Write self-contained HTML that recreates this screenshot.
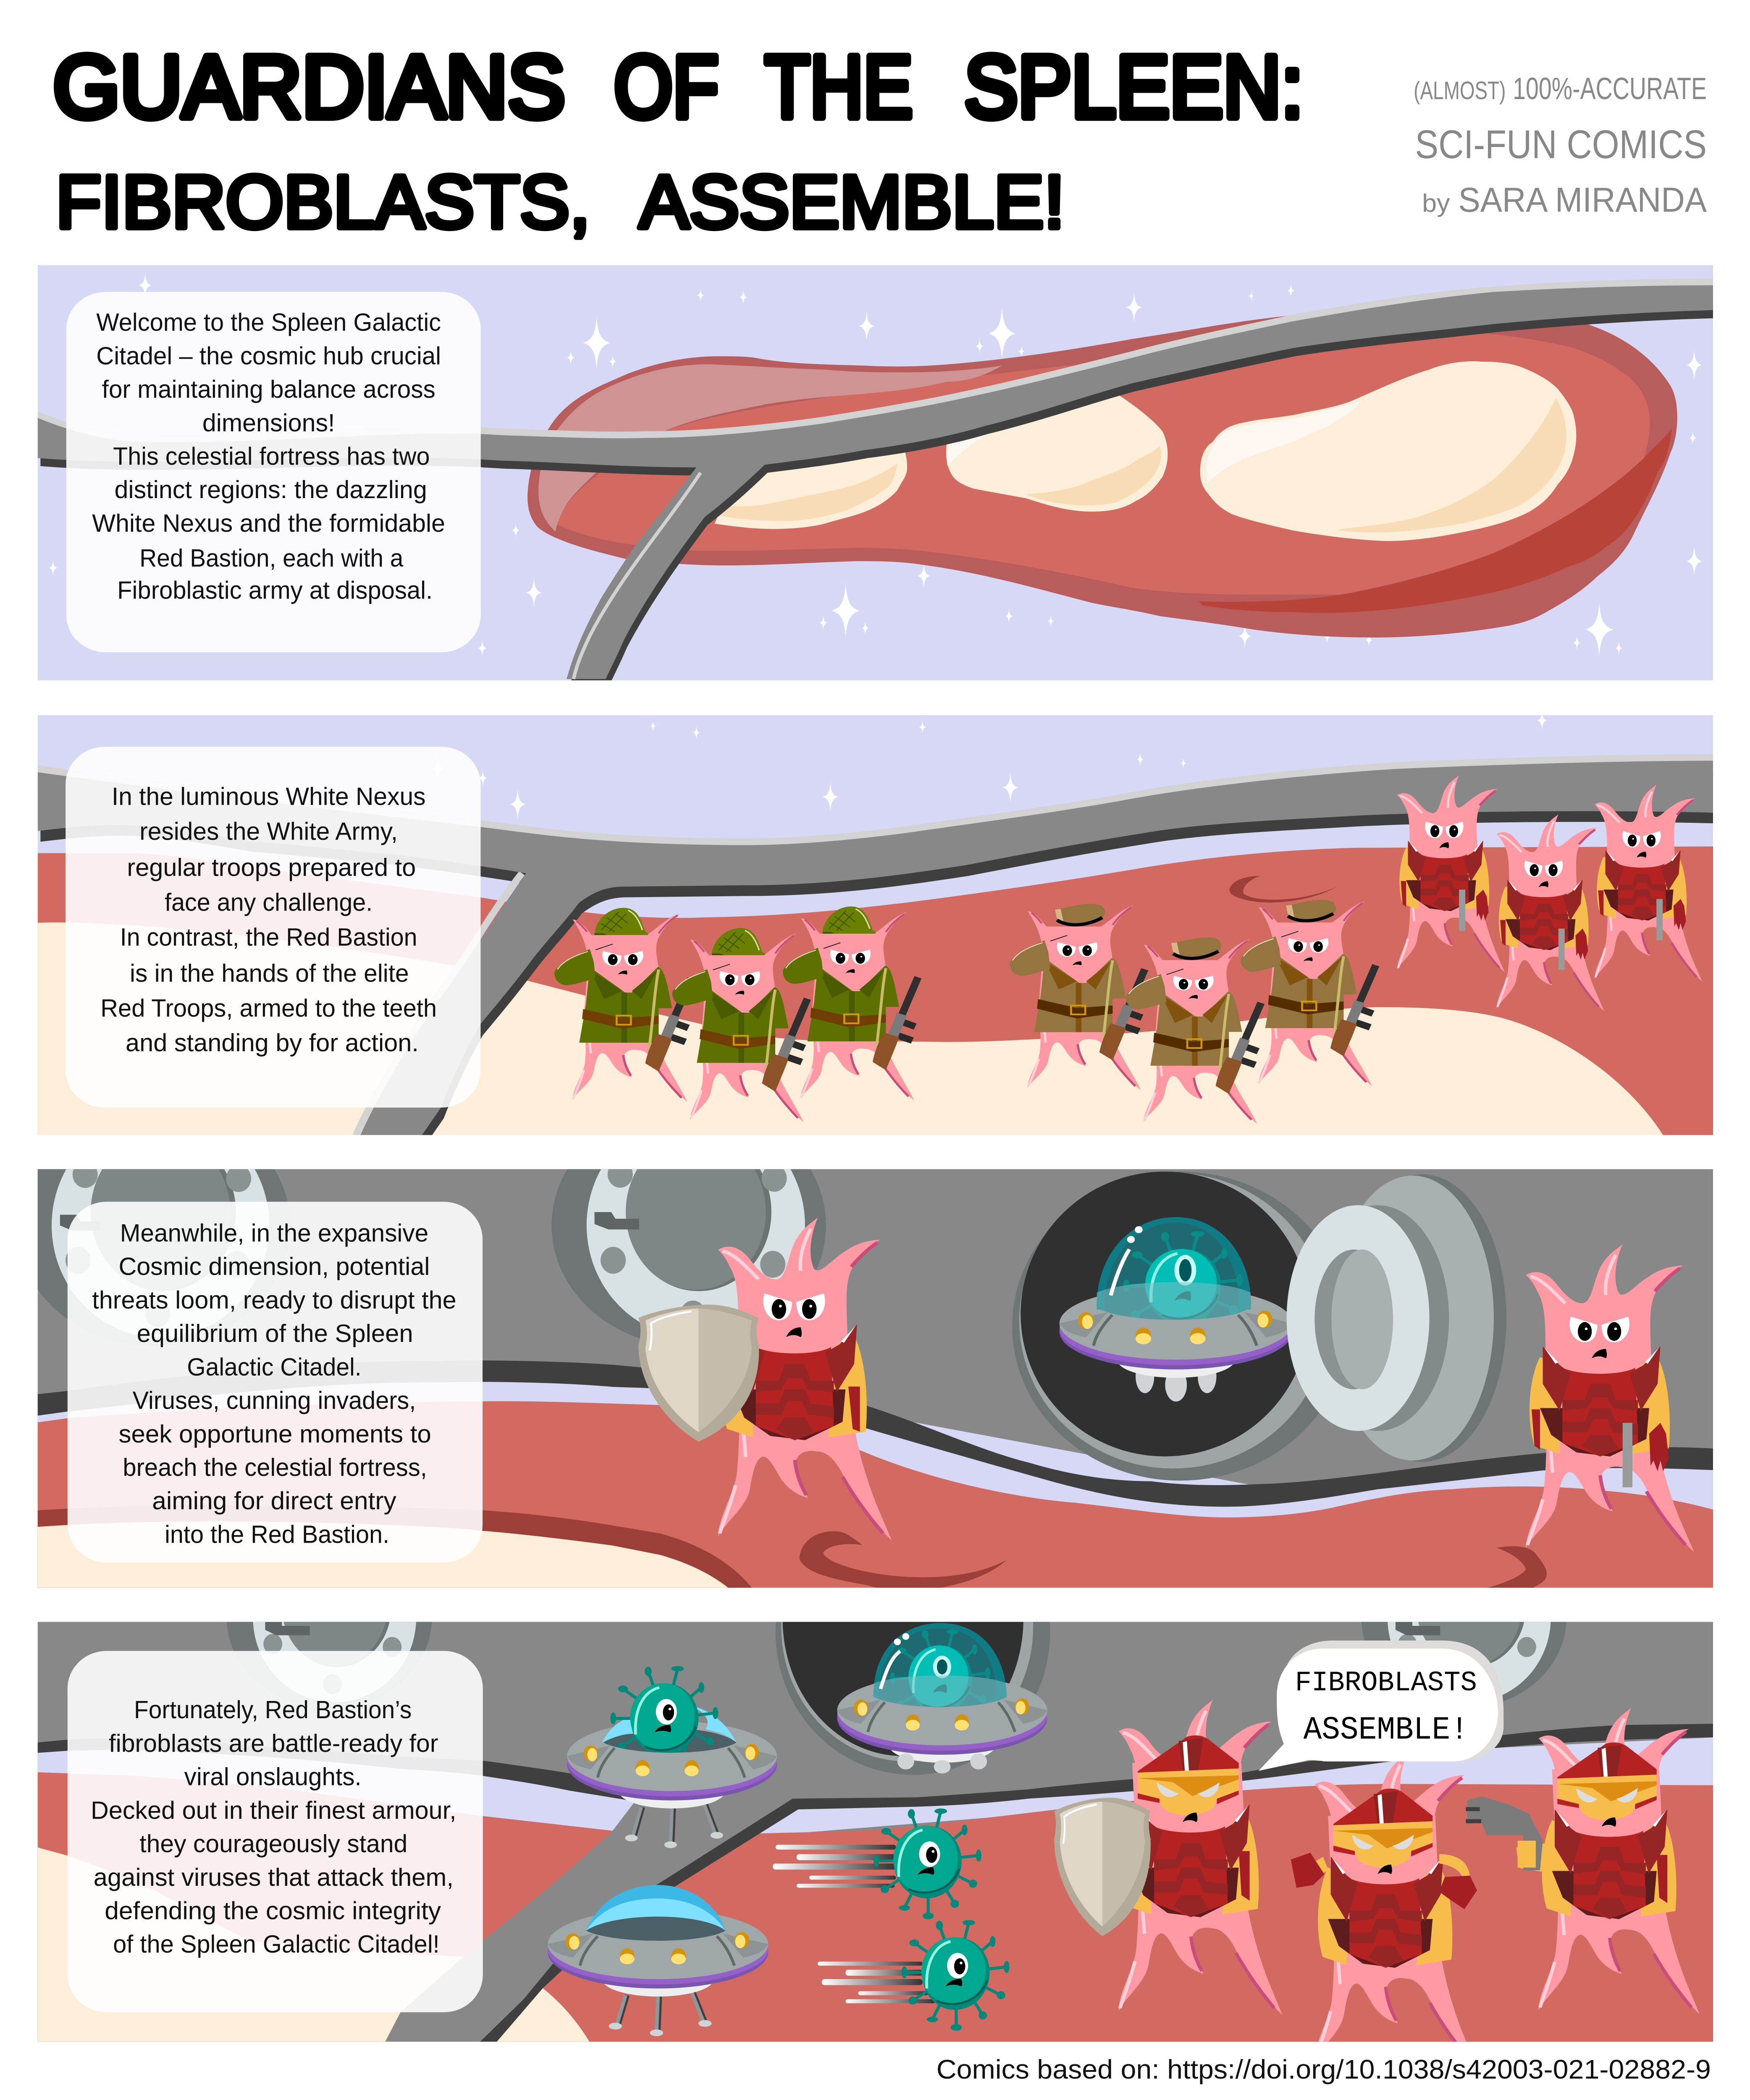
<!DOCTYPE html>
<html><head><meta charset="utf-8"><style>
html,body{margin:0;padding:0;background:#fff;width:100%;height:100%;overflow:hidden}
svg{display:block;position:fixed;left:0;top:0;width:100vw;height:100vh}
.b{font-family:"Liberation Sans",sans-serif;font-size:18.5px;fill:#111}
</style></head><body>
<svg xmlns="http://www.w3.org/2000/svg" viewBox="0 0 1254 1568" preserveAspectRatio="none">
<defs>
<clipPath id="c1"><rect x="27" y="198" width="1200.500" height="310"/></clipPath>
<clipPath id="c2"><rect x="27" y="534" width="1200.500" height="313.500"/></clipPath>
<clipPath id="c3"><rect x="27" y="873" width="1200.500" height="312.500"/></clipPath>
<clipPath id="c4"><rect x="27" y="1211" width="1200.500" height="313.500"/></clipPath>
<linearGradient id="sl"><stop offset="0" stop-color="#fff"/><stop offset="1" stop-color="#333"/></linearGradient>
<path id="s" fill="#fff" d="M0-1C.05-.35.15-.12.5 0C.15.12.05.35 0 1C-.05.35-.15.12-.5 0C-.15-.12-.05-.35 0-1Z"/>

<g id="lg"><path fill="none" stroke="#c84d7a" stroke-width="2.500" d="M86,184C95,200 104,212 114,224M53,172C54,182 57,190 61,197"/><path fill="none" stroke="#ffd0da" stroke-width="2.500" d="M12,190C8,205 4,215 1,224M15,120L19,170"/></g>

<g id="fb"><path fill="#ff9aa4" d="M0,23C8,18 16,22 22,30C28,38 34,44 40,44C48,44 48,24 55,14C60,6 66,3 69,0C64,12 62,26 66,36C70,42 78,30 88,24C96,18 106,16 112,16C104,20 92,32 90,44C87,55 90,90 92,130C94,160 104,190 110,205L120,229C108,218 96,200 86,182C80,170 74,166 68,166C58,164 52,170 54,178C55,186 60,194 62,199C52,196 46,190 42,183C38,176 34,168 30,170C26,172 24,180 22,192C20,205 6,215 0,226C0,212 12,195 13,180C15,160 15,130 14,90C14,60 14,45 8,35C6,30 3,26 0,23Z"/><use href="#lg"/><path fill="none" stroke="#c84d7a" stroke-width="2.500" d="M92,35C98,28 104,22 110,18"/><path fill="none" stroke="#ffd0da" stroke-width="2.500" d="M3,24C12,26 20,36 28,44M64,8C58,20 56,30 57,38"/></g>

<g id="fb2"><path fill="#ff9aa4" d="M0,7C8,8 14,18 20,26L78,26C90,16 100,4 112,0C102,8 90,24 88,36C86,48 90,60 90,70L90,160C94,180 110,205 120,229C108,218 96,200 86,182C80,170 74,166 68,166C58,164 52,170 54,178C55,186 60,194 62,199C52,196 46,190 42,183C38,176 34,168 30,170C26,172 24,180 22,192C20,205 6,215 0,226C0,212 12,195 13,180C15,160 12,150 12,120L16,60C16,40 8,20 0,7Z"/><use href="#lg"/><path fill="none" stroke="#c84d7a" stroke-width="2" d="M4,9C8,12 12,18 15,22M90,24C96,14 104,6 110,2"/></g>

<g id="eyes"><path fill="#fff" d="M-10,-9C-13,0 -8,10 0,10C7,10 9,3 9,-3Z"/><ellipse cx="0" cy="2" rx="5" ry="7"/><circle cx="1" cy="0" r="1" fill="#fff"/>
<g transform="translate(21 0) scale(-1 1)"><path fill="#fff" d="M-10,-9C-13,0 -8,10 0,10C7,10 9,3 9,-3Z"/><ellipse cx="0" cy="2" rx="5" ry="7"/><circle cx="-1" cy="0" r="1" fill="#fff"/></g></g>
<path id="mo" d="M-5,3C-3,-2 1,-4 5,-4C6,-1 6,2 5,3C2,1 -2,1 -5,3Z"/>

<g id="arm">
<path fill="#f6bd4c" d="M10,84C2,100 0,130 6,150L24,156L24,90ZM94,84C102,100 104,130 102,152L76,156L82,90Z"/>
<path fill="#5f1c1c" d="M10,122L88,122L86,145L60,158L36,155L18,142Z"/>
<path fill="#b52222" d="M26,92C38,98 68,98 78,92L80,148L66,153L53,158L40,153L26,148Z"/>
<path fill="#962626" d="M12,76L24,90L32,96L24,124L12,104ZM96,76L84,90L74,96L82,124L94,104Z"/>
<path fill="#962626" d="M26,116L42,116L46,104L60,104L64,116L80,116L80,124L62,122L58,114L48,114L44,122L26,124ZM26,132L42,132L46,122L60,122L64,132L80,134L80,142L62,140L58,130L48,130L44,140L26,140ZM40,150L46,142L60,142L66,152L53,158Z"/>
<path fill="#fff" d="M13,77L23,88L21,89ZM95,77L85,88L87,89Z"/>
</g>
<path id="gl" fill="#a51e24" d="M0,8L8,0L12,8L14,26L10,36L8,28L6,36L3,28L1,32Z"/>

<g id="hm">
<path fill="#ff9aa4" d="M10,46L90,46L92,90L12,90Z"/>
<path fill="#b52222" d="M14,52L50,27C56,25 62,26 66,29L88,46L88,54L14,54Z"/>
<path fill="#8d2323" d="M44,30L62,28L57,60L48,60Z"/><path fill="#fff" d="M47,31L50,30L52,58L49,58Z"/>
<path fill="#f6bd4c" d="M14,53L88,50L88,66L72,72L70,78C60,86 40,86 32,78L30,72L14,68Z"/>
<path fill="#dd8d12" d="M14,57L88,55L88,58L54,70L40,60Z"/>
<path fill="#b52222" d="M14,68L30,72L30,75L14,72ZM72,72L88,66L88,69L72,76Z"/>
<path fill="#ddd" d="M28,60C34,64 42,68 44,68C38,74 29,70 28,60ZM74,60C68,64 60,68 58,68C64,74 73,70 74,60Z"/>
<use href="#mo" transform="translate(52 86)"/>
</g>

<g id="sol">
<use href="#fb2"/>
<path style="fill:var(--a)" d="M18,65L55,96L62,96L89,65C96,66 99,85 104,115L90,115L90,157L7,157L14,110Z"/>
<path style="fill:var(--b)" d="M18,68L33,104L52,94ZM89,68L72,104L62,94ZM51,96h6v61h-6Z"/>
<path style="fill:var(--c)" d="M11,116L52,127L90,124L90,134L52,140L10,128Z"/>
<rect x="46" y="124" width="15" height="11" fill="none" stroke="#d69a00" stroke-width="2"/>
<path d="M90,68C86,90 84,130 80,165" fill="none" stroke="#c9bb6a" stroke-width="3"/>
<path style="fill:var(--a)" d="M18,43C6,50 -18,62 -19,72C-19,82 -12,88 -4,87C6,85 15,82 24,78L22,58Z"/>
<path d="M-16,68C-10,58 0,52 16,46" fill="none" stroke="#e8ecc8" stroke-width="1"/>
<path fill="#ff9aa4" d="M19,44L42,34L43,38L30,50L22,50Z"/><path fill="none" stroke="#222" stroke-width="1" d="M24,44L42,37"/>
<use href="#eyes" transform="translate(42 54) scale(1 .95)"/><use href="#mo" transform="translate(52 72) scale(.9 .7)"/>
<path stroke="#2f2f2f" stroke-width="8" fill="none" d="M124,79L105,130"/>
<path stroke="#2a2a2a" stroke-width="8" fill="none" d="M109,134L121,139M103,150L118,156"/>
<path stroke="#7b7b7b" stroke-width="11" fill="none" d="M107,124L97,152"/>
<path fill="#8e5228" d="M88,146L104,152C100,165 95,178 90,192L76,182C78,170 82,158 88,146Z"/>
</g>
<g id="hel"><path fill="#6b8000" d="M23,24C25,5 40,-8 55,-7C68,-6 72,8 76,22L79,24L79,26L23,26Z"/><path fill="#3f5000" d="M23,24L32,24L36,26L23,26Z"/><path fill="none" stroke="#3f5000" stroke-width="1" d="M30,12L44,22M36,5L52,18M45,0L58,12M30,20L48,-2M38,22L56,0"/><path fill="none" stroke="#d9e0a8" stroke-width="1.500" d="M58,-4C66,0 70,10 73,20"/></g>
<g id="cap"><path fill="#94743f" d="M29,5C45,2 65,-6 78,0C84,6 82,12 80,14L78,18C65,26 45,28 35,20Z"/><path fill="#d7b585" d="M29,5L35,4L38,20L31,16Z"/><path fill="none" stroke="#000" stroke-width="4" d="M31,18C45,28 65,24 79,15"/></g>

<g id="vir"><g style="stroke:var(--s)" stroke-width="2.200" fill="none"><path d="M0,0L9,-37M0,0L-12,-35M0,0L26,-23M0,0L-30,-22M0,0L36,-4M0,0L-37,0M0,0L32,17M0,0L-31,21M0,0L19,32M0,0L0,41M0,0L-17,35"/></g>
<g style="fill:var(--s)"><ellipse cx="9" cy="-37" rx="4.500" ry="2"/><ellipse cx="-12" cy="-35" rx="2.500" ry="3.500"/><ellipse cx="26" cy="-23" rx="2" ry="4"/><ellipse cx="-30" cy="-22" rx="3.500" ry="2.500"/><ellipse cx="36" cy="-4" rx="2" ry="4.500"/><ellipse cx="-37" cy="0" rx="2" ry="4.500"/><ellipse cx="32" cy="17" rx="3" ry="3"/><ellipse cx="-31" cy="21" rx="3" ry="3"/><ellipse cx="19" cy="32" rx="3" ry="3"/><ellipse cx="0" cy="41" rx="4" ry="2.500"/><ellipse cx="-17" cy="35" rx="4" ry="2"/></g>
<ellipse cx="0" cy="1" rx="24" ry="27" transform="rotate(8)" style="fill:var(--s)"/><ellipse cx="-2" cy="-1" rx="23" ry="25" transform="rotate(8)" style="fill:var(--v)"/>
<path fill="none" stroke="#005f56" stroke-width="1.500" d="M-14,21C0,28 18,20 22,6"/><path fill="none" stroke="#8ff5e0" stroke-width="2" d="M-21,12C-22,-6 -16,-20 -4,-23"/></g>
<g id="vf"><ellipse cx="1" cy="-5" rx="7.500" ry="9.500" fill="#fff"/><ellipse cx="2.500" cy="-4.500" rx="4" ry="6"/><circle cx="3.500" cy="-7" r="1" fill="#fff"/><use href="#mo" transform="translate(-2 8) scale(1.100 .8)"/></g>

<g id="sau">
<ellipse cx="0" cy="4" rx="75" ry="27" fill="#7a55b0"/><ellipse cx="0" cy="2" rx="75" ry="26" fill="#9560c8"/>
<ellipse cx="0" cy="-2" rx="75" ry="26" fill="#a0a7a9"/>
</g>
<g id="sfr">
<path fill="#a0a7a9" d="M-49,-12C-30,-2 30,-2 46,-12L75,-2C70,18 30,24 0,24C-30,24 -70,18 -75,-2Z"/>
<path fill="#8d9394" d="M-75,-2L-44,-10L-58,8C-66,6 -72,4 -75,-2ZM75,-2L44,-10L58,8C66,6 72,4 75,-2Z"/>
<path fill="none" stroke="#5f6a6c" stroke-width="2" d="M-41,-8C-48,0 -52,8 -53,14M40,-8C47,0 50,8 52,14"/>
<g fill="#d4920a"><ellipse cx="-58" cy="-4" rx="5" ry="6"/><ellipse cx="-21" cy="7" rx="5" ry="6"/><ellipse cx="14" cy="7" rx="5" ry="6"/><ellipse cx="57" cy="-5" rx="5" ry="6"/></g>
<g fill="#ffe073"><ellipse cx="-57" cy="-3" rx="3.500" ry="5"/><ellipse cx="-21" cy="9" rx="5" ry="4"/><ellipse cx="14" cy="9" rx="5" ry="4"/><ellipse cx="56" cy="-4" rx="3.500" ry="5"/></g>
</g>
<g id="und"><ellipse cx="0" cy="24" rx="38" ry="13" fill="#edeeee"/><ellipse cx="0" cy="21" rx="30" ry="8" fill="#bfc3dc"/></g>
<path id="lens" fill="#4a5f66" d="M-49,-12C-30,-26 30,-26 46,-12C30,-2 -30,-2 -49,-12Z"/>
<g id="legs"><path fill="none" stroke="#3f3f3f" stroke-width="3.500" d="M-21,36L-27,58M1,37L0,63M24,34L32,56"/><path fill="none" stroke="#8f9799" stroke-width="2.500" d="M-22,36L-28,58M0,37L-1,63M23,34L31,56"/><g fill="#cdd3d6"><ellipse cx="-29" cy="59" rx="4.500" ry="2.500"/><ellipse cx="-1" cy="64" rx="4.500" ry="2.500"/><ellipse cx="32" cy="57" rx="4.500" ry="2.500"/></g></g>

<g id="shield"><path fill="#b3aa9a" d="M50,0C65,0 78,6 86,10C84,14 84,24 86,30C88,70 65,92 43,102C20,88 0,60 0,30C2,24 2,14 0,10C8,6 30,0 50,0Z"/><path fill="#dfd6c8" d="M43,3C30,3 12,8 5,12C7,20 6,28 5,32C7,60 25,82 43,95Z"/><path fill="#c5bcae" d="M43,3C55,3 72,8 81,12C79,20 80,28 81,32C79,60 60,82 43,95Z"/><path fill="none" stroke="#fff" stroke-width="1.500" d="M38,5C25,7 15,10 9,14C10,22 9,30 8,34"/></g>

<g id="ph"><ellipse cx="0" cy="0" rx="98" ry="90" fill="#6f7575"/><ellipse cx="5" cy="0" rx="78" ry="84" fill="#d8e2e4"/><ellipse cx="7" cy="-10" rx="52" ry="59" fill="#6d7374"/><ellipse cx="5" cy="-10" rx="50" ry="58" fill="#7f8686"/>
<g fill="#8a9292"><ellipse cx="-49" cy="-38" rx="9" ry="10"/><ellipse cx="-54" cy="26" rx="9" ry="10"/><ellipse cx="61" cy="-35" rx="9" ry="10"/><ellipse cx="60" cy="29" rx="9" ry="10"/><ellipse cx="3" cy="66" rx="9" ry="10"/></g></g>
</defs>

<!-- Title -->
<g font-family="'Liberation Sans',sans-serif" stroke="#000" stroke-linejoin="round" stroke-linecap="round">
<g font-size="66" stroke-width="5.500">
<text x="38" y="87.500" textLength="367" lengthAdjust="spacingAndGlyphs">GUARDIANS</text>
<text x="440" y="87.500" textLength="75" lengthAdjust="spacingAndGlyphs">OF</text>
<text x="548" y="87.500" textLength="106" lengthAdjust="spacingAndGlyphs">THE</text>
<text x="691" y="87.500" textLength="243" lengthAdjust="spacingAndGlyphs">SPLEEN:</text>
</g>
<g font-size="56" stroke-width="4">
<text x="40" y="170" textLength="383" lengthAdjust="spacingAndGlyphs">FIBROBLASTS,</text>
<text x="458" y="170" textLength="305" lengthAdjust="spacingAndGlyphs">ASSEMBLE!</text>
</g>
</g>
<g font-family="'Liberation Sans',sans-serif" fill="#888">
<text x="1013" y="74" font-size="19" textLength="66" lengthAdjust="spacingAndGlyphs">(ALMOST)</text>
<text x="1084" y="74" font-size="23" textLength="139" lengthAdjust="spacingAndGlyphs">100%-ACCURATE</text>
<text x="1014" y="118" font-size="30" textLength="209" lengthAdjust="spacingAndGlyphs">SCI-FUN COMICS</text>
<text x="1019" y="158" font-size="19" textLength="20" lengthAdjust="spacingAndGlyphs">by</text>
<text x="1045" y="158" font-size="26" textLength="178" lengthAdjust="spacingAndGlyphs">SARA MIRANDA</text>
</g>
<text x="671" y="1552" font-family="'Liberation Sans',sans-serif" font-size="20" textLength="555" lengthAdjust="spacingAndGlyphs" fill="#111">Comics based on: https://doi.org/10.1038/s42003-021-02882-9</text>

<!-- PANEL 1 -->
<g clip-path="url(#c1)">
<rect x="20" y="190" width="1220" height="325" fill="#d7d7f6"/>
<use href="#s" transform="translate(104 213) scale(9)"/><use href="#s" transform="translate(502 220.500) scale(5)"/><use href="#s" transform="translate(532.600 222) scale(5.500)"/><use href="#s" transform="translate(812.600 229.500) scale(11)"/><use href="#s" transform="translate(896.700 221) scale(4)"/><use href="#s" transform="translate(925 217) scale(5)"/><use href="#s" transform="translate(621 243.500) scale(11)"/><use href="#s" transform="translate(718 249) scale(19.500)"/><use href="#s" transform="translate(427.500 256) scale(19.500)"/><use href="#s" transform="translate(409 267) scale(5.500)"/><use href="#s" transform="translate(439 270) scale(5)"/><use href="#s" transform="translate(702 258.500) scale(5.500)"/><use href="#s" transform="translate(732 262.500) scale(4.500)"/><use href="#s" transform="translate(1214 272.500) scale(11)"/><use href="#s" transform="translate(1213 327) scale(5)"/><use href="#s" transform="translate(369.600 396) scale(5.500)"/><use href="#s" transform="translate(1214 419) scale(11)"/><use href="#s" transform="translate(662 430) scale(9)"/><use href="#s" transform="translate(382.600 442.500) scale(11)"/><use href="#s" transform="translate(606 456) scale(20)"/><use href="#s" transform="translate(590 465) scale(5.500)"/><use href="#s" transform="translate(620 469) scale(5)"/><use href="#s" transform="translate(723 460) scale(5.500)"/><use href="#s" transform="translate(753 463.700) scale(4.500)"/><use href="#s" transform="translate(892 475) scale(9)"/><use href="#s" transform="translate(951 476) scale(4)"/><use href="#s" transform="translate(981 478) scale(5)"/><use href="#s" transform="translate(1146 470) scale(20)"/><use href="#s" transform="translate(1130 480) scale(5.500)"/><use href="#s" transform="translate(1160 484) scale(5)"/><use href="#s" transform="translate(345.600 484) scale(6)"/><use href="#s" transform="translate(38 424) scale(6)"/>
<path fill="#b85c5c" d="M378,370C379,348 386,330 397,314C410,296 430,288 450,279C472,270 495,266 514,266C525,266 532,266 540,267C565,272 590,272 620,273C655,275 685,272 718,268C750,264 780,259 812,253C850,247 885,240 921,236C980,228 1100,228 1140,243C1165,252 1185,268 1197,288C1204,300 1203,325 1197,338C1190,360 1180,378 1171,398C1165,412 1155,422 1145,430C1135,440 1125,447 1113,454C1100,462 1095,464 1082,467C1050,473 1015,476 984,476C955,476 925,474 898,470C875,466 852,463 831,460C810,455 795,453 782,450C745,440 705,428 663,422C645,419 630,419 614,419C580,420 540,423 505,422C485,421 465,420 447,417C428,412 412,408 397,401C391,398 386,395 384,392C379,385 378,378 378,370Z"/>
<path fill="#d26a62" d="M398,391C415,400 440,405 456,407C470,410 485,411 496,411C535,412 575,410 614,409C635,409 650,410 666,412C715,418 765,428 812,439C840,443 870,444 898,444L961,444C1005,435 1040,425 1070,413C1110,395 1150,370 1178,342C1184,320 1186,300 1168,282C1155,272 1145,266 1128,260C1110,255 1085,251 1064,249L764,273L698,281C600,296 520,305 476,322C440,342 405,370 398,391Z"/>
<path fill="#cf9393" d="M398,397C389,388 385,378 386,362C387,345 393,328 403,316C417,298 432,290 450,283C470,275 490,272 508,272C535,273 562,275 591,276C612,278 630,278 649,278C675,278 700,276 718,273C705,281 692,285 678,285C660,290 640,292 620,294C595,296 570,298 548,302C525,307 498,312 476,322C460,330 440,342 427,353C415,365 408,372 404,380C401,386 399,392 398,397Z"/>
<path fill="#b84339" d="M859,449C895,450 930,449 961,444C1000,437 1040,425 1070,413C1110,395 1150,370 1178,342C1185,334 1192,328 1198,320C1196,338 1192,348 1188,352C1180,375 1168,398 1151,408C1140,418 1132,420 1122,424C1095,437 1070,443 1042,448C1000,456 960,459 926,457C900,457 880,455 862,452Z"/>
<path fill="#fdeed9" d="M860,352C860,340 864,333 869,330C874,322 880,318 889,316C905,312 920,312 935,308C945,306 956,304 967,300C985,292 1005,282 1024,276C1036,271 1050,269 1062,270C1072,270 1082,271 1090,274C1102,279 1110,284 1116,290C1122,298 1127,305 1128,312C1130,320 1130,330 1128,338C1126,348 1122,355 1116,362C1110,372 1104,377 1096,382C1085,388 1072,392 1059,395C1037,400 1015,404 993,404C970,403 948,400 926,396C910,392 896,389 883,384C875,380 870,375 866,369C861,363 860,358 860,352Z"/>
<path fill="#f7dcb6" d="M1115,297C1122,310 1123,320 1122,332C1121,345 1110,362 1099,370C1088,380 1075,383 1059,388C1045,392 1030,394 1013,396C995,398 975,398 959,396L960,395C980,393 995,391 1013,387C1035,380 1055,370 1070,358C1085,345 1105,320 1115,297Z"/>
<path fill="#fff8f2" d="M865,361C864,350 864,342 868,336C872,325 880,320 892,318C908,314 925,314 938,310C950,306 965,303 976,299C970,306 965,310 958,314C950,320 942,322 935,326C922,332 910,335 898,340C888,344 875,350 865,361Z"/>
<path fill="#fdeed9" d="M678,338C678,332 679,325 680,322L794,290C810,300 825,312 833,322C838,333 838,345 833,356C827,365 822,370 814,374C805,380 795,382 782,382C765,382 750,377 735,372L698,365C690,362 686,360 683,356C680,352 678,345 678,338Z"/>
<path fill="#f7dcb6" d="M735,369C750,368 768,366 782,359C795,354 805,350 811,346C820,340 826,338 831,333C834,342 830,350 826,356C820,364 810,370 800,375C790,378 770,378 762,376C750,375 742,372 735,369Z"/>
<path fill="#fff8f2" d="M679,348C677,336 680,330 683,326L721,316C705,325 690,335 679,348Z"/>
<path fill="#fdeed9" d="M530,350L646,330C650,340 650,345 650,350C650,355 646,360 643,366C638,372 630,378 620,382C610,386 600,388 591,391C580,394 565,395 554,395C540,395 525,393 512,391Z"/>
<path fill="#f7dcb6" d="M643,346C642,353 640,360 636,364L626,371L609,380C595,385 578,389 563,389C548,389 530,388 516,385L524,378C535,378 542,378 551,376C570,372 590,368 606,364C620,360 633,353 643,346Z"/>
<!-- vessel -->
<path fill="#3f3f3f" transform="translate(2 6)" d="M27,312C50,322 78,330 104,330C180,332 270,322 344,324L361,325C395,326 430,328 462,327C505,327 550,322 591,316C620,311 650,306 678,300C725,290 770,278 812,267C852,256 890,248 926,240C975,231 1020,223 1070,218C1120,215 1175,213 1230,213L1230,231.500C1175,233 1120,237 1070,242C1020,248 975,252 926,260C888,268 850,277 812,286C780,295 745,308 706,318C680,326 650,332 620,336C595,341 570,344 548,347C533,362 520,374 505,386C495,400 485,414 476,428C465,445 455,462 447,478C443,488 438,498 434,507L406,507C412,485 420,467 430,448C438,434 447,420 456,406C470,388 485,368 499,349C450,349 400,345 361,344L344,343C250,338 120,350 27,342Z"/>
<path fill="#d2d2d2" d="M27,307C50,318 78,324 104,324C180,326 270,317 344,319L361,320C395,321 430,323 462,322C505,322 550,317 591,311C620,306 650,301 678,295C725,285 770,273 812,262C852,251 890,243 926,235C975,226 1020,218 1070,214C1120,210 1175,208 1230,208L1230,225L926,250L812,275L678,310L591,326L462,335L344,330L104,335L27,320Z"/>
<path fill="#888" d="M27,312C50,322 78,330 104,330C180,332 270,322 344,324L361,325C395,326 430,328 462,327C505,327 550,322 591,316C620,311 650,306 678,300C725,290 770,278 812,267C852,256 890,248 926,240C975,231 1020,223 1070,218C1120,215 1175,213 1230,213L1230,231.500C1175,233 1120,237 1070,242C1020,248 975,252 926,260C888,268 850,277 812,286C780,295 745,308 706,318C680,326 650,332 620,336C595,341 570,344 548,347C533,362 520,374 505,386C495,400 485,414 476,428C465,445 455,462 447,478C443,488 438,498 434,507L406,507C412,485 420,467 430,448C438,434 447,420 456,406C470,388 485,368 499,349C450,349 400,345 361,344L344,343C250,338 120,350 27,342Z"/>
<path fill="none" stroke="#d2d2d2" stroke-width="2.500" d="M502,353C475,395 445,430 423,474C417,487 413,497 411,507"/>
</g>

<!-- PANEL 2 -->
<g clip-path="url(#c2)">
<rect x="20" y="530" width="1220" height="325" fill="#d7d7f6"/>
<use href="#s" transform="translate(371 600.500) scale(11)"/><use href="#s" transform="translate(346 581) scale(6)"/><use href="#s" transform="translate(595 595) scale(11)"/><use href="#s" transform="translate(724 588) scale(11)"/><use href="#s" transform="translate(468 542) scale(4)"/><use href="#s" transform="translate(499 547) scale(5)"/><use href="#s" transform="translate(661 543) scale(5)"/><use href="#s" transform="translate(817 567) scale(5)"/><use href="#s" transform="translate(848 570) scale(4)"/><use href="#s" transform="translate(1105 538) scale(7)"/><use href="#s" transform="translate(313.500 574) scale(9)"/>
<path fill="#d26a62" d="M27,637L99,637C135,640 170,645 206,651C255,658 300,664 344,670L361,673L418,681C450,685 480,686 505,685C560,684 600,680 649,674C702,667 762,658 813,649C873,638 933,634 972,633L1234,632L1234,848L27,848Z"/>
<path fill="#fdeed9" d="M27,689C50,688 75,690 99,691C145,695 190,700 233,706C265,711 300,716 330,722L377,732L418,743C446,752 472,757 500,764C532,772 562,777 592,777L678,778C722,778 773,774 813,771C883,766 943,752 989,752C1023,752 1053,754 1076,760C1113,770 1164,802 1192,848L27,848Z"/>
<path fill="#3f3f3f" transform="translate(2 8)" d="M27,576.600C120,590 240,605 344,617.400C380,622 430,631 534,631C572,631 612,627 649,622C702,614 762,606 813,596C873,585 953,577 1003,574C1093,570 1173,568 1234,568L1234,607C1173,605 1053,605 972,609C923,612 873,614 832,620C782,628 737,637 692,646C642,654 592,661 534,661L447,662C432,662 423,668 415,674C405,688 392,702 381,717C368,735 356,750 344,765C333,785 323,808 316,827L302,848L258,848C270,820 285,795 300,769C315,745 330,725 344,702C355,685 366,668 377,652C330,644 290,639 287,638.500C250,635 215,631 179,628C145,622 115,616 85,616C65,616 47,618 27,620.500Z"/>
<path fill="#d2d2d2" d="M27,571.400C120,585 240,600 344,612.400C380,617 430,626 534,626C572,626 612,622 649,617C702,609 762,601 813,591C873,580 953,572 1003,569C1093,565 1173,563 1234,563L1234,575L1003,585L813,605L649,630L534,640L344,630L27,590Z"/>
<path fill="none" stroke="#d2d2d2" stroke-width="5" d="M374,652C362,668 351,685 341,702C327,725 312,745 297,769C282,795 267,820 255,848"/>
<path fill="#888" d="M27,576.600C120,590 240,605 344,617.400C380,622 430,631 534,631C572,631 612,627 649,622C702,614 762,606 813,596C873,585 953,577 1003,574C1093,570 1173,568 1234,568L1234,607C1173,605 1053,605 972,609C923,612 873,614 832,620C782,628 737,637 692,646C642,654 592,661 534,661L447,662C432,662 423,668 415,674C405,688 392,702 381,717C368,735 356,750 344,765C333,785 323,808 316,827L302,848L258,848C270,820 285,795 300,769C315,745 330,725 344,702C355,685 366,668 377,652C330,644 290,639 287,638.500C250,635 215,631 179,628C145,622 115,616 85,616C65,616 47,618 27,620.500Z"/>
<path fill="#9b3f38" d="M881,664C883,657 893,654 903,654C895,657 890,662 891,667C898,674 933,674 958,662C938,674 908,676 893,672C885,670 881,668 881,664Z"/>
<g transform="scale(1.0032)">
<g transform="translate(998 577) scale(.64 .64)"><use href="#fb"/><use href="#arm"/><use href="#eyes" transform="translate(42 63)"/><use href="#mo" transform="translate(52 82)"/><path fill="#9a9a9a" d="M69,133h7v48h-7Z"/><use href="#gl" transform="translate(88 133)"/><path fill="#a51e24" d="M4,123L10,123L10,153L6,150Z"/></g>
<g transform="translate(1069 606) scale(.64 .64)"><use href="#fb"/><use href="#arm"/><use href="#eyes" transform="translate(42 63)"/><use href="#mo" transform="translate(52 82)"/><path fill="#9a9a9a" d="M69,133h7v48h-7Z"/><use href="#gl" transform="translate(88 133)"/><path fill="#a51e24" d="M4,123L10,123L10,153L6,150Z"/></g>
<g transform="translate(1139 584) scale(.64 .64)"><use href="#fb"/><use href="#arm"/><use href="#eyes" transform="translate(42 63)"/><use href="#mo" transform="translate(52 82)"/><path fill="#9a9a9a" d="M69,133h7v48h-7Z"/><use href="#gl" transform="translate(88 133)"/><path fill="#a51e24" d="M4,123L10,123L10,153L6,150Z"/></g>
<g style="--a:#5d7000;--b:#4a5a00;--c:#703e04">
<g transform="translate(409 680) scale(.683 .612)"><use href="#sol"/><use href="#hel"/></g>
<g transform="translate(493 695) scale(.675 .612)"><use href="#sol"/><use href="#hel"/></g>
<g transform="translate(572 679) scale(.675 .612)"><use href="#sol"/><use href="#hel"/></g>
</g>
<g style="--a:#94743f;--b:#82530e;--c:#542c00">
<g transform="translate(734 674) scale(.675 .6)"><use href="#sol"/><use href="#cap"/></g>
<g transform="translate(817 699) scale(.675 .6)"><use href="#sol"/><use href="#cap"/></g>
<g transform="translate(899 671) scale(.675 .6)"><use href="#sol"/><use href="#cap"/></g>
</g>
</g>
</g>

<!-- PANEL 3 -->
<g clip-path="url(#c3)">
<rect x="20" y="870" width="1220" height="320" fill="#888"/>
<use href="#ph" transform="translate(110 915)"/>
<g transform="scale(1.0032)"><use href="#ph" transform="translate(492 912)"/></g>
<path fill="#5f6566" d="M43,907h12l3,5h14v7h-20l-9-4ZM426,905h12l3,5h17v8h-22l-10-4Z"/>
<path fill="#d7d7f6" d="M27,1050L346,1020L619,1055L903,1110L1234,1090L1234,1190L27,1190Z"/>
<path fill="#3f3f3f" d="M27,1041L48,1038.600C85,1033 120,1029 152,1025C198,1020 245,1017 287,1016.400L346,1015.800C380,1016 410,1017 439,1019C460,1021 480,1023 500,1025C542,1029 582,1038 619,1049C662,1063 702,1083 737,1092C772,1103 802,1106 825,1106C853,1110 883,1109 906,1108C933,1107 963,1103 987,1100C1023,1095 1063,1089 1105,1085C1153,1081 1193,1079 1234,1082L1234,1098C1193,1096 1143,1095 1105,1098C1063,1103 1023,1108 987,1112C953,1118 913,1125 879,1125C833,1125 793,1118 743,1103C702,1091 662,1079 619,1066C572,1051 522,1041 473,1037C460,1036 450,1036 439,1035.500C410,1033 380,1032 346,1031.800L287,1032.400C245,1033 198,1037 152,1041.700C120,1045 85,1050 48,1054L27,1057Z"/>
<path fill="#d26a62" d="M27,1062L48,1059C85,1056 120,1054 152,1052C198,1049 245,1048 287,1047L346,1046.300C380,1046 410,1047 439,1048L500,1050C542,1055 587,1071 619,1084C662,1103 722,1118 770,1122C812,1127 847,1133 879,1133C908,1133 938,1130 960,1124.500C988,1118 1013,1113 1040,1112C1073,1109 1113,1109 1149,1113C1184,1116 1214,1123 1234,1129L1234,1190L27,1190Z"/>
<path fill="#9b3f38" d="M27,1127.700C70,1125 110,1124 152,1123.600C198,1124 245,1125 287,1125.700C310,1126 330,1127 346,1127.700C380,1130 410,1134 439,1139C450,1141 462,1143 473,1145C502,1153 527,1168 542,1190L27,1190Z"/>
<path fill="#fdeed9" d="M27,1140C70,1137 110,1136 152,1136C198,1136 245,1137 287,1139C310,1140 330,1141 346,1143C380,1146 410,1150 439,1154L473,1161C497,1168 514,1178 527,1190L27,1190Z"/>
<g transform="scale(1.0032)">
<path fill="#9b3f38" d="M571,1160C572,1146 585,1138 600,1140C605,1141 611,1146 616,1150C606,1148 590,1150 588,1156C590,1162 610,1170 640,1173C670,1176 700,1172 719,1161C700,1180 650,1190 620,1180C600,1176 575,1172 571,1160Z"/>
<path fill="#9b3f38" d="M1069,1152C1080,1150 1094,1150 1098,1158C1106,1168 1108,1175 1098,1180C1085,1188 1070,1188 1054,1184C1070,1180 1085,1175 1090,1168C1088,1162 1080,1156 1069,1152Z"/>
<ellipse cx="843" cy="987" rx="120" ry="115" fill="#6f7575"/>
<ellipse cx="838" cy="983" rx="110" ry="110" fill="#9fa5a7"/>
<ellipse cx="832" cy="978" rx="103" ry="106" fill="#303030"/>
<g transform="translate(840 987) scale(1.11 1.04)">
<g fill="#d0d4d6"><ellipse cx="-20" cy="36" rx="6" ry="12"/><ellipse cx="0" cy="42" rx="7" ry="12"/><ellipse cx="20" cy="36" rx="6" ry="12"/></g>
<use href="#und"/><use href="#sau"/><use href="#lens"/>
<path fill="#0f7b84" d="M-51,-12C-52,-50 -30,-78 0,-78C32,-78 50,-45 48,-12C30,-2 -30,-2 -51,-12Z"/>
<path fill="#1f6a70" d="M-46,-12C-47,-46 -28,-74 0,-74C28,-74 42,-42 40,-12C30,-2 -30,-2 -46,-12Z"/>
<g style="--v:#00bdb5;--s:#0b8b88" transform="translate(5 -29)"><use href="#vir"/><g transform="translate(0 -6)"><ellipse cx="1" cy="-5" rx="7" ry="11" fill="#c6fff5"/><ellipse cx="1" cy="-5" rx="4" ry="8" fill="#00585a"/><use href="#mo" transform="translate(-1 14)" fill="#00585a"/></g></g>
<path fill="#7ac0c4" opacity=".55" d="M-51,-24C-30,-34 30,-34 48,-24L48,-12C30,-2 -30,-2 -51,-12Z"/>
<path fill="none" stroke="#fff" stroke-width="2.500" d="M-42,-22C-38,-38 -34,-48 -30,-55"/><circle cx="-29" cy="-62" r="2.500" fill="#fff"/><circle cx="-24" cy="-69" r="2.500" fill="#fff"/>
<use href="#sfr"/>
</g>
<ellipse cx="1016" cy="981" rx="60" ry="107" fill="#6f7575"/>
<ellipse cx="1009" cy="981" rx="58" ry="106" fill="#a9b0b2"/>
<ellipse cx="984" cy="981" rx="51" ry="84" fill="#838a8c"/>
<ellipse cx="970" cy="981" rx="51" ry="84" fill="#d8e2e4"/>
<ellipse cx="967" cy="982" rx="28" ry="52" fill="#8a9294"/>
<ellipse cx="973" cy="982" rx="22" ry="52" fill="#a9b0b2"/>
<g transform="translate(513 906) scale(1.033 1.05)"><use href="#fb"/><use href="#arm"/><use href="#eyes" transform="translate(42 63)"/><use href="#mo" transform="translate(52 82)"/><path fill="#a51e24" d="M90,120L98,120L98,152L93,150Z"/></g>
<use href="#shield" transform="translate(456 971)"/>
<g transform="translate(1090 926)"><use href="#fb"/><use href="#arm"/><use href="#eyes" transform="translate(42 63)"/><use href="#mo" transform="translate(52 82)"/><path fill="#9a9a9a" d="M69,133h7v48h-7Z"/><use href="#gl" transform="translate(88 133)"/><path fill="#a51e24" d="M4,123L10,123L10,153L6,150Z"/></g>
</g>
</g>

<!-- PANEL 4 -->
<g clip-path="url(#c4)">
<rect x="20" y="1205" width="1220" height="325" fill="#888"/>
<use href="#ph" transform="translate(236 1208) scale(.75)"/>
<use href="#ph" transform="translate(1049 1208) scale(.75)"/>
<path fill="#5f6566" d="M1000,1211h12v3h20v7h-24l-8-4ZM190,1211h12v3h20v7h-24l-8-4Z"/>
<g transform="scale(1.0032)"><ellipse cx="652" cy="1215" rx="98" ry="106" fill="#6f7575"/><ellipse cx="648" cy="1211" rx="90" ry="100" fill="#9fa5a7"/><ellipse cx="645" cy="1205" rx="86" ry="102" fill="#303030"/></g>
<path fill="#3f3f3f" d="M27,1301L48,1299C85,1297 120,1298 152,1301C200,1305 245,1308 287,1311.500C310,1313 330,1314 346,1314.600C370,1318 390,1321 408,1324L455,1335L455,1345L408,1337C385,1332 365,1329 346,1326C325,1323 305,1322 287,1320.800C245,1316 200,1312 152,1309.400C120,1307 85,1306 48,1307.300L27,1308.800Z"/>
<path fill="#d7d7f6" d="M27,1308.800L48,1307.300C85,1306 120,1307 152,1309.400C200,1312 245,1316 287,1320.800C305,1322 325,1323 346,1326C365,1329 385,1332 408,1337L455,1345L439,1367L346,1356L206,1336L99,1326L27,1323.300Z"/>
<path fill="#d26a62" d="M27,1323.300L99,1326C135,1329 170,1332 206,1336C255,1343 300,1350 346,1356L439,1367C405,1400 375,1425 346,1449L287,1502.500L276,1524.500L27,1524.500Z"/>
<path fill="#fdeed9" d="M27,1379.400L48,1385.400C70,1393 90,1402 112,1412C135,1425 157,1438 179,1449C220,1455 280,1458 332,1461L287,1502.500L276,1524.500L27,1524.500Z"/>
<path fill="#d7d7f6" d="M572,1351L657,1349L737,1343L888,1330L1073,1305L1234,1297L1234,1335L888,1340L758,1353L544,1371L480,1411Z"/>
<path fill="#d26a62" d="M544,1369C572,1368 602,1368 630,1366C672,1362 717,1356 758,1351C802,1346 847,1340 888,1337C923,1334 963,1332 998,1332L1234,1333L1234,1524.500L356,1524.500L389,1484.500L405,1469L480,1411Z"/>
<path fill="#3f3f3f" d="M568,1343L657,1342C687,1340 712,1338 737,1336C762,1333 792,1330 816,1328C843,1326 863,1326 888,1324C953,1312 1013,1302 1073,1296C1113,1291 1143,1289 1162,1288L1234,1287L1234,1297C1184,1298 1123,1300 1073,1305C1013,1312 953,1322 888,1330C833,1336 783,1340 737,1343C712,1346 687,1348 657,1349L572,1351L480,1411C452,1434 427,1449 405,1469L389,1484.500L356,1524.500L344,1524.500L375,1493L398,1464L465,1411Z"/>
<path fill="#fdeed9" d="M356,1524.500L389,1484.500C405,1498 415,1512 422.400,1524.500Z"/>
<g transform="scale(1.0032)">
<g transform="translate(673 1275)">
<use href="#und"/><g fill="#d0d4d6"><ellipse cx="-26" cy="36" rx="6" ry="6"/><ellipse cx="0" cy="40" rx="6" ry="5"/><ellipse cx="26" cy="36" rx="6" ry="6"/></g><use href="#sau"/><use href="#lens"/>
<path fill="#0f7b84" d="M-49,-12C-50,-45 -30,-67 -1,-67C30,-67 46,-40 46,-12C30,-2 -30,-2 -49,-12Z"/>
<path fill="#1f6a70" d="M-45,-12C-46,-43 -28,-63 -1,-63C26,-63 40,-38 38,-12C30,-2 -30,-2 -45,-12Z"/>
<g style="--v:#00bdb5;--s:#0b8b88" transform="translate(-1 -26) scale(.93)"><use href="#vir"/><g transform="translate(0 -4)"><ellipse cx="1" cy="-5" rx="7" ry="9" fill="#c6fff5"/><ellipse cx="1" cy="-5" rx="4" ry="6" fill="#00585a"/><use href="#mo" transform="translate(-1 13)" fill="#00585a"/></g></g>
<path fill="#7ac0c4" opacity=".55" d="M-49,-22C-30,-30 30,-30 46,-22L46,-12C30,-2 -30,-2 -49,-12Z"/>
<path fill="none" stroke="#fff" stroke-width="2.500" d="M-44,-18C-40,-32 -36,-42 -30,-46"/><circle cx="-32" cy="-53" r="2.500" fill="#fff"/><circle cx="-26" cy="-57" r="2.500" fill="#fff"/>
<use href="#sfr"/>
</g>
<g transform="translate(480 1309)">
<use href="#legs"/><use href="#und"/><use href="#sau"/><use href="#lens"/>
<path fill="#7fe1ff" d="M-50,-12C-44,-24 -36,-30 -26,-32L-24,-18C-32,-20 -42,-16 -50,-12ZM24,-22C30,-32 16,-38 12,-40C30,-36 40,-24 46,-12C40,-18 32,-20 24,-22Z"/>
<g style="--v:#00a88f;--s:#00897b" transform="translate(-5 -30)"><use href="#vir"/><use href="#vf"/></g>
<use href="#sfr"/>
</g>
<g transform="translate(470 1449) scale(1.05 1)">
<use href="#legs"/><use href="#und"/><use href="#sau"/>
<path fill="#3db8e6" d="M-49,-12C-40,-36 -20,-46 0,-46C22,-46 40,-32 46,-12C30,-26 -30,-26 -49,-12Z"/>
<path fill="#7fe1ff" d="M-49,-12C-38,-30 -20,-36 0,-36C22,-36 38,-26 46,-12C30,-24 -30,-24 -49,-12Z"/>
<use href="#lens"/><use href="#sfr"/>
</g>
<g fill="url(#sl)"><rect x="554" y="1373" width="86" height="3.600" rx="1.800"/><rect x="569" y="1380" width="71" height="4.500" rx="2"/><rect x="552" y="1387" width="88" height="4.500" rx="2"/><rect x="578" y="1396" width="62" height="3" rx="1.500"/><rect x="569" y="1402" width="70" height="3" rx="1.500"/>
<rect x="584" y="1460" width="75" height="3" rx="1.500"/><rect x="604" y="1466" width="55" height="4.500" rx="2"/><rect x="587" y="1473" width="72" height="4.500" rx="2"/><rect x="613" y="1482" width="50" height="3" rx="1.500"/><rect x="604" y="1488" width="64" height="3" rx="1.500"/></g>
<g style="--v:#00a88f;--s:#00897b"><g transform="translate(663 1385)"><use href="#vir"/><use href="#vf"/></g><g transform="translate(683 1468)"><use href="#vir"/><use href="#vf"/></g></g>
<g transform="translate(799 1265) scale(.975 1.025)"><use href="#fb"/><use href="#hm"/><use href="#arm"/><path fill="#a51e24" d="M88,110L96,110L96,146L90,142Z"/></g>
<use href="#shield" transform="translate(753 1338) scale(.8 1.010)"/>
<g transform="translate(939 1305) scale(.958 1.010)"><use href="#fb"/><use href="#hm"/><use href="#arm"/></g>
<path fill="#f6bd4c" d="M935,1388l10-6 4,10-8,4ZM1028,1380C1040,1380 1050,1385 1050,1399L1045,1399C1044,1392 1036,1388 1028,1387Z"/>
<path fill="#a51e24" d="M922,1384L936,1379L946,1395L938,1403L926,1405Z"/>
<path fill="#a51e24" d="M1032,1397L1050,1396L1055,1407L1046,1421L1036,1414L1028,1408Z"/>
<path fill="#f6bd4c" d="M1083,1375L1104,1372C1110,1385 1118,1395 1115,1400L1108,1395C1100,1392 1090,1392 1085,1390Z"/>
<g transform="translate(1099 1271) scale(.958 .996)"><use href="#fb"/><use href="#hm"/><use href="#arm"/><path fill="#a51e24" d="M88,110L96,110L96,146L90,142Z"/></g>
<path fill="#7b7b7b" d="M1048,1340L1058,1337L1078,1343L1092,1350L1102,1370L1100,1392L1088,1392L1088,1366L1062,1366L1058,1356L1048,1358Z"/>
<path fill="#3f3f3f" d="M1047,1345h10v3h-10ZM1047,1354h11v3h-11Z"/>
<path fill="#f6bd4c" d="M1084,1370h13v20h-13Z"/>
<path fill="#dedcda" d="M952,1221H1030C1058,1221 1074,1240 1074,1275V1285C1074,1300 1060,1311 1040,1311H945L917,1290V1250C917,1235 930,1221 952,1221Z"/>
<path fill="#fff" d="M945,1227H1030C1055,1227 1070,1250 1070,1275C1070,1295 1055,1311 1038,1311H950L935,1310L899,1318L917,1298C912,1285 912,1275 912,1262C912,1243 925,1227 945,1227Z"/>
<text x="925" y="1258" font-family="'Liberation Mono',monospace" font-size="21" textLength="130" lengthAdjust="spacingAndGlyphs">FIBROBLASTS</text>
<text x="931" y="1294" font-family="'Liberation Mono',monospace" font-size="24" textLength="118" lengthAdjust="spacingAndGlyphs">ASSEMBLE!</text>
</g>
</g>

<!-- text boxes -->
<g fill="#fff" fill-opacity=".89">
<rect x="47.500" y="218" width="297" height="269" rx="28"/>
<rect x="47" y="557.600" width="297.400" height="269.400" rx="28"/>
<rect x="48.400" y="897.300" width="297.400" height="269.400" rx="28"/>
<rect x="48.400" y="1232.700" width="297.600" height="269.800" rx="28"/>
</g>
<text class="b" x="69" y="247" textLength="247" lengthAdjust="spacingAndGlyphs">Welcome to the Spleen Galactic</text>
<text class="b" x="69" y="272" textLength="247" lengthAdjust="spacingAndGlyphs">Citadel – the cosmic hub crucial</text>
<text class="b" x="73" y="297" textLength="239" lengthAdjust="spacingAndGlyphs">for maintaining balance across</text>
<text class="b" x="145" y="322" textLength="95" lengthAdjust="spacingAndGlyphs">dimensions!</text>
<text class="b" x="81" y="347" textLength="227" lengthAdjust="spacingAndGlyphs">This celestial fortress has two</text>
<text class="b" x="82" y="372" textLength="224" lengthAdjust="spacingAndGlyphs">distinct regions: the dazzling</text>
<text class="b" x="66" y="397" textLength="253" lengthAdjust="spacingAndGlyphs">White Nexus and the formidable</text>
<text class="b" x="100" y="423" textLength="189" lengthAdjust="spacingAndGlyphs">Red Bastion, each with a</text>
<text class="b" x="84" y="447" textLength="226" lengthAdjust="spacingAndGlyphs">Fibroblastic army at disposal.</text>

<text class="b" x="80" y="601" textLength="225" lengthAdjust="spacingAndGlyphs">In the luminous White Nexus</text>
<text class="b" x="100" y="627" textLength="185" lengthAdjust="spacingAndGlyphs">resides the White Army,</text>
<text class="b" x="91" y="654" textLength="207" lengthAdjust="spacingAndGlyphs">regular troops prepared to</text>
<text class="b" x="118" y="680" textLength="149" lengthAdjust="spacingAndGlyphs">face any challenge.</text>
<text class="b" x="86" y="706" textLength="213" lengthAdjust="spacingAndGlyphs">In contrast, the Red Bastion</text>
<text class="b" x="93" y="733" textLength="200" lengthAdjust="spacingAndGlyphs">is in the hands of the elite</text>
<text class="b" x="72" y="759" textLength="241" lengthAdjust="spacingAndGlyphs">Red Troops, armed to the teeth</text>
<text class="b" x="90" y="785" textLength="210" lengthAdjust="spacingAndGlyphs">and standing by for action.</text>

<text class="b" x="86" y="927" textLength="221" lengthAdjust="spacingAndGlyphs">Meanwhile, in the expansive</text>
<text class="b" x="85" y="952" textLength="223" lengthAdjust="spacingAndGlyphs">Cosmic dimension, potential</text>
<text class="b" x="66" y="977" textLength="261" lengthAdjust="spacingAndGlyphs">threats loom, ready to disrupt the</text>
<text class="b" x="98" y="1002" textLength="198" lengthAdjust="spacingAndGlyphs">equilibrium of the Spleen</text>
<text class="b" x="134" y="1027" textLength="125" lengthAdjust="spacingAndGlyphs">Galactic Citadel.</text>
<text class="b" x="95" y="1052" textLength="203" lengthAdjust="spacingAndGlyphs">Viruses, cunning invaders,</text>
<text class="b" x="85" y="1077" textLength="224" lengthAdjust="spacingAndGlyphs">seek opportune moments to</text>
<text class="b" x="88" y="1102" textLength="218" lengthAdjust="spacingAndGlyphs">breach the celestial fortress,</text>
<text class="b" x="109" y="1127" textLength="175" lengthAdjust="spacingAndGlyphs">aiming for direct entry</text>
<text class="b" x="118" y="1152" textLength="161" lengthAdjust="spacingAndGlyphs">into the Red Bastion.</text>

<text class="b" x="96" y="1283" textLength="199" lengthAdjust="spacingAndGlyphs">Fortunately, Red Bastion’s</text>
<text class="b" x="78" y="1308" textLength="236" lengthAdjust="spacingAndGlyphs">fibroblasts are battle-ready for</text>
<text class="b" x="132" y="1333" textLength="127" lengthAdjust="spacingAndGlyphs">viral onslaughts.</text>
<text class="b" x="65" y="1358" textLength="262" lengthAdjust="spacingAndGlyphs">Decked out in their finest armour,</text>
<text class="b" x="100" y="1383" textLength="192" lengthAdjust="spacingAndGlyphs">they courageously stand</text>
<text class="b" x="67" y="1408" textLength="258" lengthAdjust="spacingAndGlyphs">against viruses that attack them,</text>
<text class="b" x="75" y="1433" textLength="241" lengthAdjust="spacingAndGlyphs">defending the cosmic integrity</text>
<text class="b" x="81" y="1458" textLength="234" lengthAdjust="spacingAndGlyphs">of the Spleen Galactic Citadel!</text>
</svg>
</body></html>
